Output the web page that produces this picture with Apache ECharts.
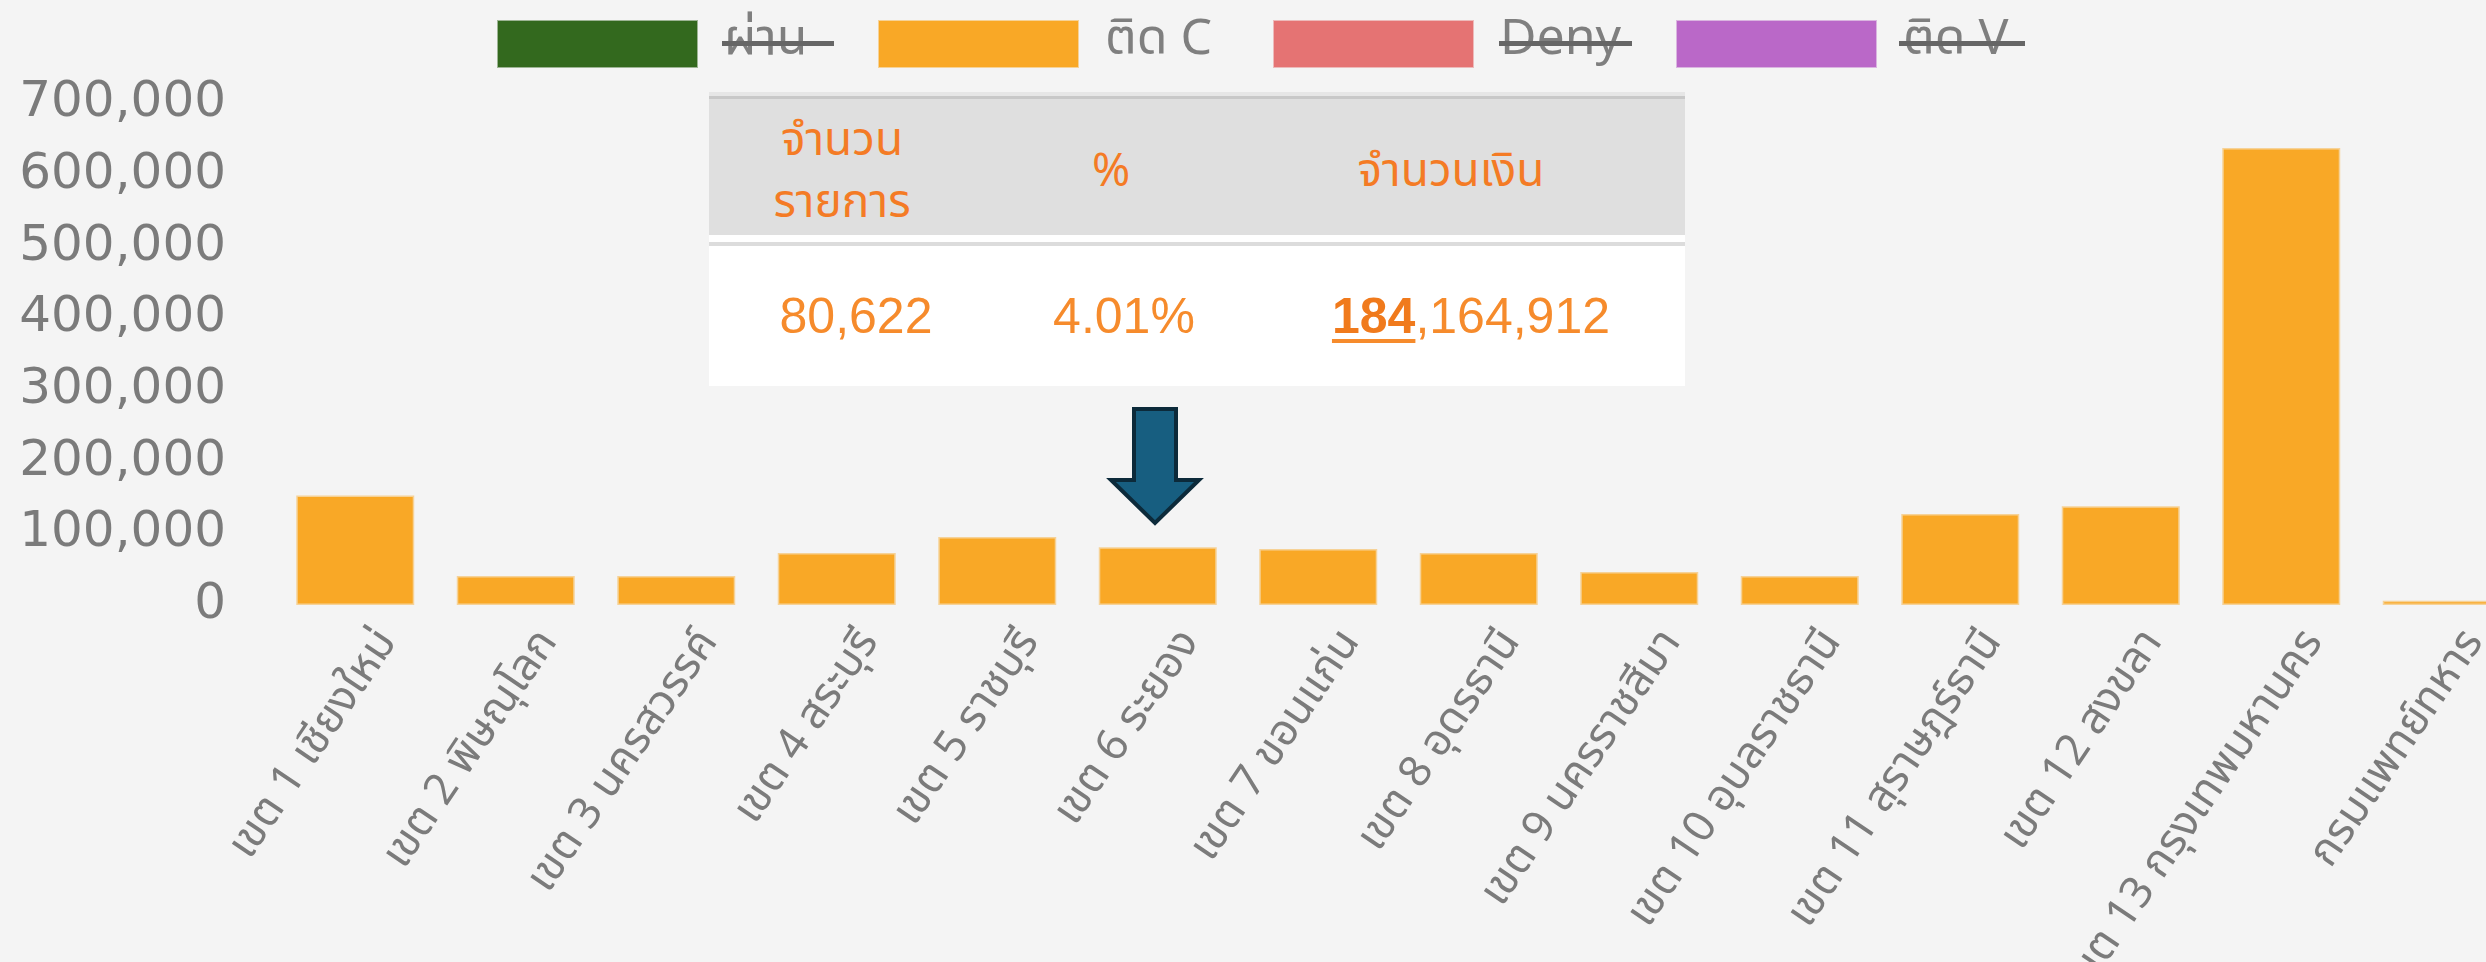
<!DOCTYPE html>
<html>
<head>
<meta charset="utf-8">
<script src="https://cdn.jsdelivr.net/npm/echarts@6/dist/echarts.min.js"></script>
<style>
  html, body { margin: 0; padding: 0; background: #f4f4f4; overflow: hidden; }
  #chart { position: absolute; left: 0; top: 0; width: 2530px; height: 962px; }
  .tbl { position: absolute; left: 709px; top: 92px; width: 976px; height: 294px; background: #fff; }
  .tbl .head { position: absolute; left: 0; top: 0; width: 976px; height: 143px; background: #dfdfdf; border-top: 4px solid #e6e6e6; box-sizing: border-box; }
  .tbl .head:before { content: ""; position: absolute; left: 0; top: 0; width: 100%; height: 3px; background: #c8c8c8; }
  .tbl .sep { position: absolute; left: 0; top: 150px; width: 976px; height: 4px; background: #dcdcdc; }
  .tbl .cell { position: absolute; transform: translate(-50%, -50%); text-align: center; white-space: nowrap; }
  .tbl .h { color: #f47b25; font-size: 46px; line-height: 62px; font-family: Tahoma, "Noto Sans Thai", "Leelawadee UI", "DejaVu Sans", sans-serif; }
  .tbl .v { color: #f68b2c; font-size: 50px; font-family: "Liberation Sans", Arial, sans-serif; }
  .tbl .v b { color: #f07a1c; }
  .tbl .v u { text-decoration-thickness: 4px; text-underline-offset: 6px; }
</style>
</head>
<body>
<div id="chart"></div>
<div class="tbl" id="tbl">
  <div class="head"></div>
  <div class="sep"></div>
</div>
<script>
// ---- data ----
var categories = ['เขต 1 เชียงใหม่', 'เขต 2 พิษณุโลก', 'เขต 3 นครสวรรค์', 'เขต 4 สระบุรี', 'เขต 5 ราชบุรี',
  'เขต 6 ระยอง', 'เขต 7 ขอนแก่น', 'เขต 8 อุดรธานี', 'เขต 9 นครราชสีมา', 'เขต 10 อุบลราชธานี',
  'เขต 11 สุราษฎร์ธานี', 'เขต 12 สงขลา', 'เขต 13 กรุงเทพมหานคร', 'กรมแพทย์ทหาร'];
var seriesNames = ['ผ่าน', 'ติด C', 'Deny', 'ติด V'];
var seriesColors = ['#33691e', '#f9a826', '#e57373', '#ba68c8'];
var passData = [];
var stuckCData = [153000, 40500, 40500, 72500, 95000, 80622, 78000, 72500, 46000, 40500, 127000, 138000, 638000, 6000];
var denyData = [];
var stuckVData = [];
var tableHeaders = ['จำนวน<br>รายการ', '%', 'จำนวนเงิน'];
var tableValues = ['80,622', '4.01%', '<u><b>184</b></u>,164,912'];

var thaiFont = 'Tahoma, "Noto Sans Thai", "Leelawadee UI", "DejaVu Sans", sans-serif';

// table (text overlay)
var tbl = document.getElementById('tbl');
var headPos = [[133, 80], [402, 80], [742, 80]];
var valPos = [[147, 224], [415, 224], [762, 224]];
tableHeaders.forEach(function (t, i) {
  var d = document.createElement('div');
  d.className = 'cell h';
  d.style.left = headPos[i][0] + 'px';
  d.style.top = headPos[i][1] + 'px';
  d.innerHTML = t;
  tbl.appendChild(d);
});
tableValues.forEach(function (t, i) {
  var d = document.createElement('div');
  d.className = 'cell v';
  d.style.left = valPos[i][0] + 'px';
  d.style.top = valPos[i][1] + 'px';
  d.innerHTML = t;
  tbl.appendChild(d);
});

var allData = [passData, stuckCData, denyData, stuckVData];
var legendLeft = [497, 878, 1273, 1676];

var chart = echarts.init(document.getElementById('chart'));
chart.setOption({
  backgroundColor: '#f4f4f4',
  animation: false,
  legend: seriesNames.map(function (n, i) {
    return {
      data: [n],
      left: legendLeft[i],
      top: 19,
      padding: 0,
      icon: 'rect',
      itemWidth: 199,
      itemHeight: 46,
      selectedMode: false,
      textStyle: { fontSize: 50, color: '#7f7f7f', fontFamily: thaiFont, padding: [0, 0, 0, 22] }
    };
  }),
  grid: { left: 275, right: 8, top: 103.5, bottom: 357, containLabel: false, outerBoundsMode: 'none' },
  xAxis: {
    type: 'category',
    data: categories,
    axisLine: { show: false },
    axisTick: { show: false },
    axisLabel: {
      interval: 0,
      rotate: 56,
      margin: 8,
      verticalAlign: 'top',
      lineHeight: 84,
      fontSize: 44,
      color: '#7b7b7b',
      fontFamily: thaiFont
    }
  },
  yAxis: {
    type: 'value',
    min: 0,
    max: 700000,
    interval: 100000,
    splitLine: { show: false },
    axisLine: { show: false },
    axisTick: { show: false },
    axisLabel: {
      margin: 49,
      fontSize: 50,
      color: '#7b7b7b',
      fontFamily: '"DejaVu Sans", Verdana, sans-serif',
      formatter: function (v) { return v.toLocaleString('en-US'); }
    }
  },
  series: seriesNames.map(function (n, i) {
    return {
      name: n,
      type: 'bar',
      stack: 'all',
      barCategoryGap: '26.5%',
      data: allData[i],
      itemStyle: {
        color: seriesColors[i],
        borderColor: echarts.color.modifyAlpha(seriesColors[i], 0.45),
        borderWidth: 3
      }
    };
  }),
  graphic: [
    // strike-through on the hidden legend entries
    { type: 'rect', shape: { x: 722, y: 41, width: 112, height: 5 }, style: { fill: '#666' }, z: 100 },
    { type: 'rect', shape: { x: 1499, y: 41, width: 133, height: 5 }, style: { fill: '#666' }, z: 100 },
    { type: 'rect', shape: { x: 1899, y: 41, width: 126, height: 5 }, style: { fill: '#666' }, z: 100 },
    // arrow pointing to เขต 6
    {
      type: 'polygon',
      shape: { points: [[1134, 409], [1176, 409], [1176, 480], [1199, 480], [1155, 523], [1111, 480], [1134, 480]] },
      style: { fill: '#175e80', stroke: '#0c2a3a', lineWidth: 4 },
      z: 100
    }
  ]
});
</script>
</body>
</html>
